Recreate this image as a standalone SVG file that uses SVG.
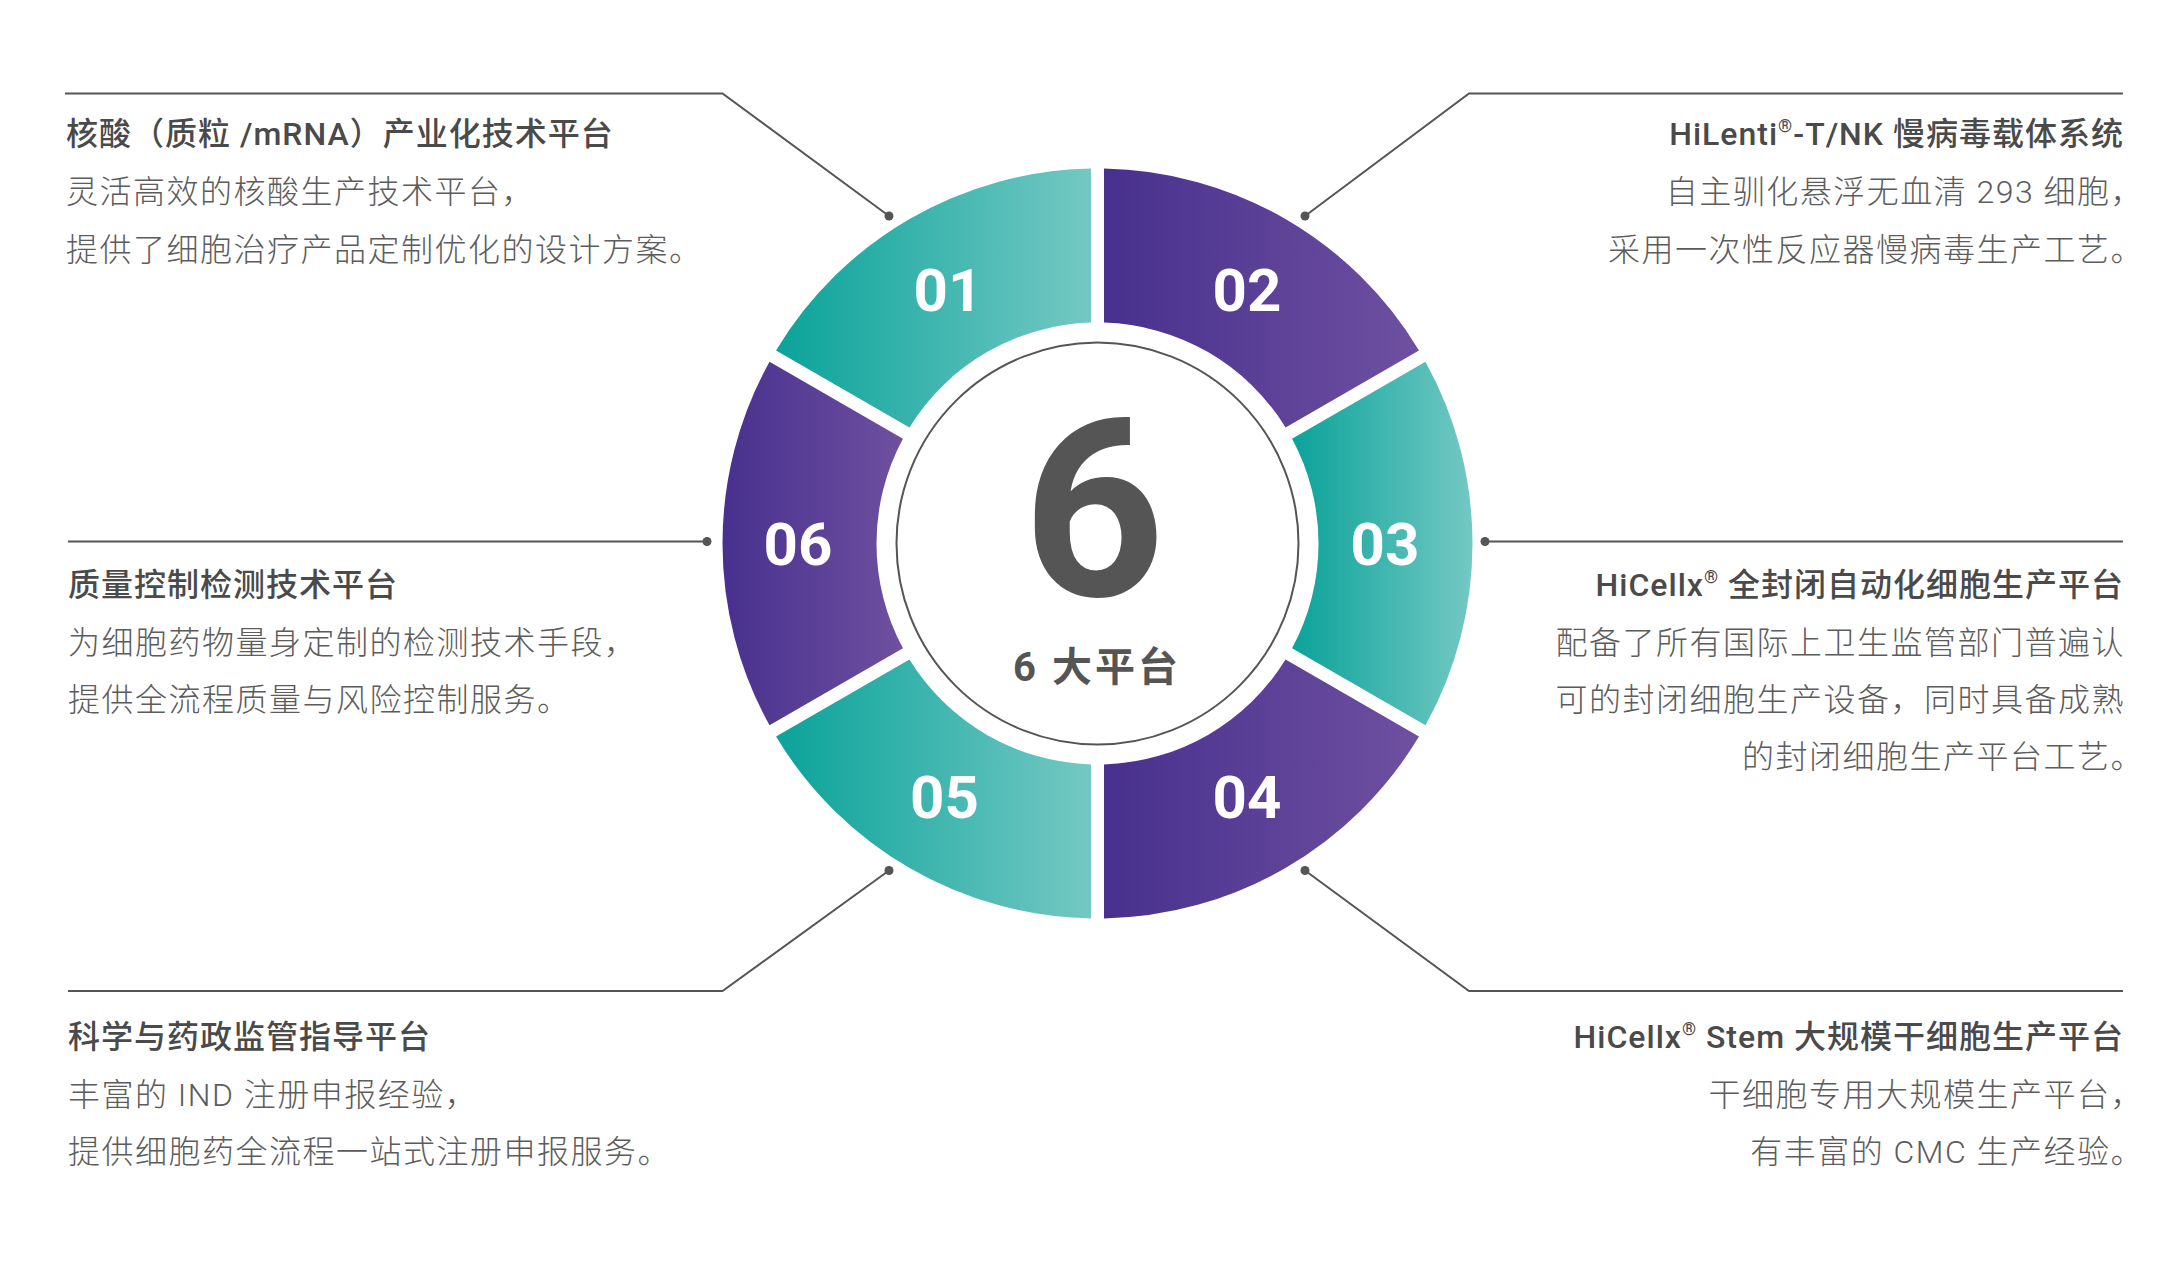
<svg xmlns="http://www.w3.org/2000/svg" width="2183" height="1281" viewBox="0 0 2183 1281">
<defs>
<linearGradient id="gTeal" x1="0" y1="0" x2="1" y2="0">
<stop offset="0" stop-color="#0aa39a"/>
<stop offset="1" stop-color="#74c8c3"/>
</linearGradient>
<linearGradient id="gPurple" x1="0" y1="0" x2="1" y2="0">
<stop offset="0" stop-color="#47308e"/>
<stop offset="1" stop-color="#6f50a0"/>
</linearGradient>
<style>
.ln{fill:none;stroke:#555;stroke-width:2}
.dot{fill:#555}
.ttl{font-family:Roboto,"Noto Sans CJK SC",sans-serif;font-weight:500;font-size:32px;fill:#4a4a4a;letter-spacing:1px}
.bd{font-family:Roboto,"Noto Sans CJK SC",sans-serif;font-weight:300;font-size:32px;fill:#5c5c5c;letter-spacing:1.5px}
.num{font-family:Roboto,"Noto Sans",sans-serif;font-weight:700;font-size:60px;fill:#fff;text-anchor:middle}
.r{text-anchor:end}
.sup{font-size:18px}
</style>
</defs>
<rect width="2183" height="1281" fill="#fff"/>

<g id="connectors">
<polyline class="ln" points="65,93.5 722.5,93.5 889,216"/>
<circle class="dot" cx="889" cy="216" r="4.5"/>
<polyline class="ln" points="2123,93.5 1469,93.5 1305,216"/>
<circle class="dot" cx="1305" cy="216" r="4.5"/>
<polyline class="ln" points="68,541.5 707,541.5"/>
<circle class="dot" cx="707" cy="541.5" r="4.5"/>
<polyline class="ln" points="1485,541.5 2123,541.5"/>
<circle class="dot" cx="1485" cy="541.5" r="4.5"/>
<polyline class="ln" points="68,991 722.5,991 889,870.5"/>
<circle class="dot" cx="889" cy="870.5" r="4.5"/>
<polyline class="ln" points="2123,991 1469,991 1305,870.5"/>
<circle class="dot" cx="1305" cy="870.5" r="4.5"/>
</g>

<g id="seg01">
<path fill="url(#gTeal)" d="M1091,168.56 A375,375 0 0 0 776.04,350.40 L909.44,427.42 A221,221 0 0 1 1091,322.60 Z"/>
<text class="num" x="948" y="311">01</text>
</g>
<g id="seg02">
<path fill="url(#gPurple)" d="M1418.96,350.40 A375,375 0 0 0 1104,168.56 L1104,322.60 A221,221 0 0 1 1285.56,427.42 Z"/>
<text class="num" x="1247" y="311">02</text>
</g>
<g id="seg03">
<path fill="url(#gTeal)" d="M1425.46,725.34 A375,375 0 0 0 1425.46,361.66 L1292.06,438.68 A221,221 0 0 1 1292.06,648.32 Z"/>
<text class="num" x="1385" y="565">03</text>
</g>
<g id="seg04">
<path fill="url(#gPurple)" d="M1104,918.44 A375,375 0 0 0 1418.96,736.60 L1285.56,659.58 A221,221 0 0 1 1104,764.40 Z"/>
<text class="num" x="1247" y="818">04</text>
</g>
<g id="seg05">
<path fill="url(#gTeal)" d="M776.04,736.60 A375,375 0 0 0 1091,918.44 L1091,764.40 A221,221 0 0 1 909.44,659.58 Z"/>
<text class="num" x="944.5" y="818">05</text>
</g>
<g id="seg06">
<path fill="url(#gPurple)" d="M769.54,361.66 A375,375 0 0 0 769.54,725.34 L902.94,648.32 A221,221 0 0 1 902.94,438.68 Z"/>
<text class="num" x="798" y="565">06</text>
</g>

<g id="center">
<circle cx="1097.5" cy="543.5" r="201" fill="#fff" stroke="#555" stroke-width="2"/>
<text x="1094" y="596" font-family="Roboto,sans-serif" font-weight="700" font-size="248" fill="#555" text-anchor="middle">6</text>
<text x="1097" y="681" font-family="Roboto,'Noto Sans CJK SC',sans-serif" font-weight="700" font-size="40" fill="#555" text-anchor="middle" letter-spacing="3">6 大平台</text>
</g>

<g id="text01">
<text class="ttl" x="66" y="145">核酸（质粒 /mRNA）产业化技术平台</text>
<text class="bd" x="66" y="203">灵活高效的核酸生产技术平台，</text>
<text class="bd" x="66" y="261">提供了细胞治疗产品定制优化的设计方案。</text>
</g>
<g id="text02">
<text class="ttl r" x="2124" y="145">HiLenti<tspan class="sup" dy="-13">®</tspan><tspan dy="13">-T/NK 慢病毒载体系统</tspan></text>
<text class="bd r" x="2144" y="203">自主驯化悬浮无血清 293 细胞，</text>
<text class="bd r" x="2144" y="261">采用一次性反应器慢病毒生产工艺。</text>
</g>
<g id="text03">
<text class="ttl r" x="2124" y="596">HiCellx<tspan class="sup" dy="-13">®</tspan><tspan dy="13"> 全封闭自动化细胞生产平台</tspan></text>
<text class="bd r" x="2125" y="654">配备了所有国际上卫生监管部门普遍认</text>
<text class="bd r" x="2125" y="711">可的封闭细胞生产设备，同时具备成熟</text>
<text class="bd r" x="2144" y="768">的封闭细胞生产平台工艺。</text>
</g>
<g id="text04">
<text class="ttl r" x="2124" y="1048">HiCellx<tspan class="sup" dy="-13">®</tspan><tspan dy="13"> Stem 大规模干细胞生产平台</tspan></text>
<text class="bd r" x="2144" y="1106">干细胞专用大规模生产平台，</text>
<text class="bd r" x="2144" y="1163">有丰富的 CMC 生产经验。</text>
</g>
<g id="text05">
<text class="ttl" x="68" y="1048">科学与药政监管指导平台</text>
<text class="bd" x="68" y="1106">丰富的 IND 注册申报经验，</text>
<text class="bd" x="68" y="1163">提供细胞药全流程一站式注册申报服务。</text>
</g>
<g id="text06">
<text class="ttl" x="68" y="596">质量控制检测技术平台</text>
<text class="bd" x="68" y="654">为细胞药物量身定制的检测技术手段，</text>
<text class="bd" x="68" y="711">提供全流程质量与风险控制服务。</text>
</g>
</svg>
